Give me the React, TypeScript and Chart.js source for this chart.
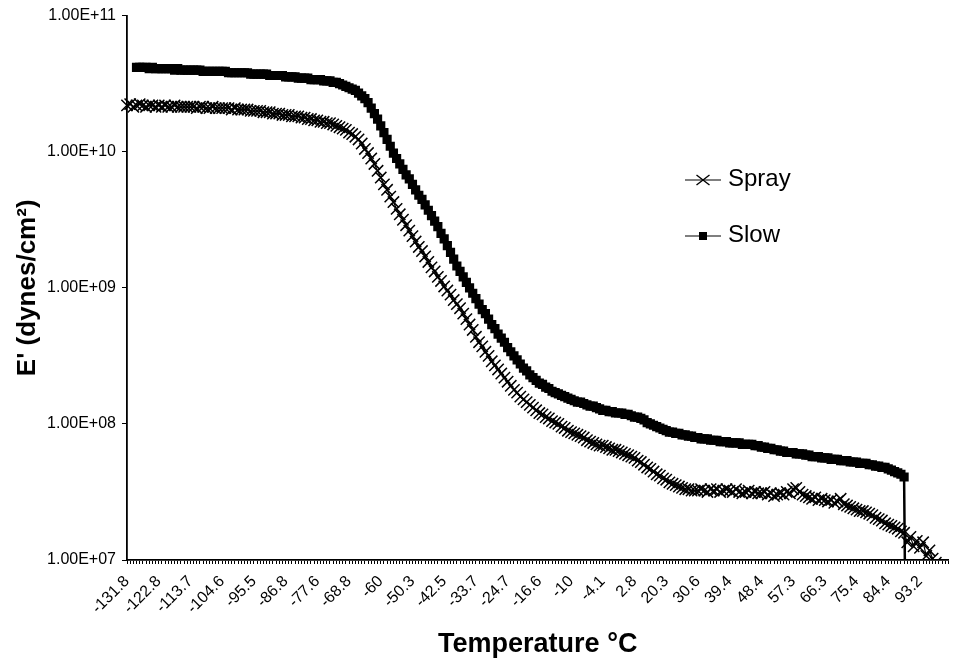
import React, { useEffect, useRef } from 'react';
import { Chart, registerables } from 'chart.js';

Chart.register(...registerables);

// ---------- data ----------
const tempLabels = [
  '-131.8', '-122.8', '-113.7', '-104.6', '-95.5', '-86.8', '-77.6', '-68.8', '-60',
  '-50.3', '-42.5', '-33.7', '-24.7', '-16.6', '-10', '-4.1', '2.8', '20.3', '30.6',
  '39.4', '48.4', '57.3', '66.3', '75.4', '84.4', '93.2',
];
const labelEvery = 10;
const categoryCount = 260;

// log10 of E' (dynes/cm^2), one value per measurement (category)
const sprayLogE = [
  10.34, 10.35, 10.33, 10.34, 10.35, 10.34, 10.33, 10.34, 10.34, 10.33,
  10.34, 10.33, 10.34, 10.33, 10.33, 10.34, 10.33, 10.33, 10.33, 10.33,
  10.33, 10.33, 10.32, 10.33, 10.33, 10.32, 10.32, 10.33, 10.32, 10.32,
  10.32, 10.32, 10.32, 10.31, 10.32, 10.31, 10.31, 10.31, 10.31, 10.30,
  10.30, 10.30, 10.30, 10.29, 10.29, 10.29, 10.28, 10.28, 10.28, 10.27,
  10.27, 10.27, 10.26, 10.26, 10.26, 10.25, 10.25, 10.24, 10.24, 10.23,
  10.23, 10.22, 10.22, 10.21, 10.21, 10.20, 10.19, 10.18, 10.17, 10.16,
  10.14, 10.13, 10.11, 10.09, 10.06, 10.02, 9.99, 9.95, 9.91, 9.86,
  9.81, 9.76, 9.72, 9.67, 9.63, 9.58, 9.54, 9.50, 9.46, 9.42,
  9.38, 9.34, 9.30, 9.27, 9.23, 9.19, 9.15, 9.12, 9.08, 9.05,
  9.01, 8.98, 8.95, 8.91, 8.88, 8.85, 8.81, 8.77, 8.73, 8.69,
  8.64, 8.60, 8.57, 8.53, 8.50, 8.46, 8.43, 8.40, 8.37, 8.34,
  8.31, 8.28, 8.25, 8.23, 8.20, 8.18, 8.16, 8.14, 8.12, 8.10,
  8.08, 8.07, 8.05, 8.04, 8.02, 8.01, 8.00, 7.98, 7.97, 7.95,
  7.94, 7.93, 7.92, 7.91, 7.90, 7.88, 7.87, 7.86, 7.85, 7.84,
  7.84, 7.83, 7.82, 7.81, 7.81, 7.80, 7.79, 7.78, 7.77, 7.76,
  7.75, 7.73, 7.72, 7.70, 7.68, 7.67, 7.65, 7.63, 7.62, 7.60,
  7.59, 7.57, 7.56, 7.55, 7.54, 7.53, 7.52, 7.52, 7.51, 7.51,
  7.51, 7.52, 7.51, 7.50, 7.52, 7.51, 7.52, 7.50, 7.51, 7.52,
  7.51, 7.50, 7.52, 7.50, 7.49, 7.50, 7.51, 7.49, 7.50, 7.49,
  7.49, 7.50, 7.48, 7.49, 7.47, 7.48, 7.49, 7.48, 7.50, 7.49,
  7.52, 7.53, 7.50, 7.48, 7.47, 7.46, 7.45, 7.46, 7.44, 7.45,
  7.44, 7.43, 7.44, 7.42, 7.43, 7.45, 7.41, 7.40, 7.39, 7.38,
  7.37, 7.36, 7.36, 7.35, 7.34, 7.33, 7.31, 7.30, 7.29, 7.27,
  7.26, 7.25, 7.24, 7.23, 7.21, 7.20, 7.13, 7.17, 7.10, 7.14,
  7.09, 7.13, 7.03, 7.07, 7.01, 6.98,
];

const slowLogE = [
  null, null, null, 10.62, 10.62, 10.62, 10.62, 10.61, 10.62, 10.61,
  10.61, 10.61, 10.61, 10.61, 10.61, 10.60, 10.61, 10.60, 10.60, 10.60,
  10.60, 10.60, 10.60, 10.60, 10.59, 10.59, 10.59, 10.59, 10.59, 10.59,
  10.59, 10.59, 10.58, 10.58, 10.58, 10.58, 10.58, 10.58, 10.58, 10.57,
  10.57, 10.57, 10.57, 10.57, 10.57, 10.56, 10.56, 10.56, 10.56, 10.56,
  10.55, 10.55, 10.55, 10.55, 10.54, 10.54, 10.54, 10.54, 10.53, 10.53,
  10.53, 10.53, 10.52, 10.52, 10.52, 10.51, 10.51, 10.50, 10.49, 10.48,
  10.47, 10.46, 10.45, 10.43, 10.41, 10.39, 10.36, 10.32, 10.28, 10.24,
  10.19, 10.14, 10.09, 10.04, 9.99, 9.95, 9.91, 9.87, 9.83, 9.80,
  9.76, 9.72, 9.68, 9.65, 9.61, 9.57, 9.53, 9.49, 9.45, 9.40,
  9.36, 9.31, 9.26, 9.21, 9.16, 9.12, 9.08, 9.04, 9.00, 8.96,
  8.92, 8.88, 8.84, 8.81, 8.77, 8.73, 8.70, 8.66, 8.63, 8.60,
  8.56, 8.53, 8.50, 8.47, 8.44, 8.41, 8.39, 8.36, 8.34, 8.32,
  8.30, 8.29, 8.27, 8.26, 8.24, 8.23, 8.22, 8.21, 8.20, 8.19,
  8.18, 8.17, 8.16, 8.16, 8.15, 8.14, 8.13, 8.13, 8.12, 8.11,
  8.10, 8.10, 8.09, 8.09, 8.08, 8.08, 8.08, 8.07, 8.07, 8.06,
  8.05, 8.05, 8.04, 8.03, 8.01, 8.00, 7.99, 7.98, 7.97, 7.96,
  7.95, 7.94, 7.94, 7.93, 7.93, 7.92, 7.92, 7.91, 7.91, 7.90,
  7.90, 7.89, 7.89, 7.89, 7.88, 7.88, 7.88, 7.87, 7.87, 7.87,
  7.86, 7.86, 7.86, 7.86, 7.85, 7.85, 7.85, 7.85, 7.84, 7.84,
  7.83, 7.83, 7.82, 7.82, 7.81, 7.81, 7.80, 7.80, 7.79, 7.79,
  7.79, 7.78, 7.78, 7.78, 7.77, 7.77, 7.76, 7.76, 7.76, 7.75,
  7.75, 7.75, 7.74, 7.74, 7.74, 7.73, 7.73, 7.73, 7.72, 7.72,
  7.72, 7.71, 7.71, 7.71, 7.70, 7.70, 7.69, 7.69, 7.68, 7.68,
  7.67, 7.66, 7.65, 7.64, 7.63, 7.61, 5,
];

const yTickValues = [1e7, 1e8, 1e9, 1e10, 1e11];
const yTickLabels = ['1.00E+07', '1.00E+08', '1.00E+09', '1.00E+10', '1.00E+11'];
const seriesNames = ['Spray', 'Slow'];
const xTitle = 'Temperature °C';
const yTitle = "E' (dynes/cm²)";

// ---------- styling ----------
const FONT = '"Liberation Sans", Arial, Helvetica, sans-serif';
const legendRows = [180, 236];

const legendPlugin = {
  id: 'excelLegend',
  afterDraw(chart: any) {
    const ctx = chart.ctx as CanvasRenderingContext2D;
    ctx.save();
    chart.data.datasets.forEach((ds: any, k: number) => {
      const y = legendRows[k];
      ctx.strokeStyle = '#000';
      ctx.lineWidth = 1.2;
      ctx.beginPath();
      ctx.moveTo(685, y);
      ctx.lineTo(721, y);
      ctx.stroke();
      const cx = 703;
      if (ds.pointStyle === 'crossRot') {
        ctx.lineWidth = 1.4;
        ctx.beginPath();
        ctx.moveTo(cx - 6.5, y - 5);
        ctx.lineTo(cx + 6.5, y + 5);
        ctx.moveTo(cx - 6.5, y + 5);
        ctx.lineTo(cx + 6.5, y - 5);
        ctx.stroke();
      } else {
        ctx.fillStyle = '#000';
        ctx.fillRect(cx - 4, y - 4, 8, 8);
      }
      ctx.fillStyle = '#000';
      ctx.font = `24px ${FONT}`;
      ctx.textBaseline = 'middle';
      ctx.textAlign = 'left';
      ctx.fillText(ds.label, 728, y - 1);
    });
    ctx.restore();
  },
};

export default function App() {
  const ref = useRef<HTMLCanvasElement>(null);

  useEffect(() => {
    if (!ref.current) return;
    const categories = Array.from({ length: categoryCount }, (_, i) =>
      i % labelEvery === 0 ? tempLabels[i / labelEvery] ?? '' : ''
    );
    const toValue = (v: number | null) => (v == null ? null : Math.pow(10, v));

    const chart = new Chart(ref.current, {
      type: 'line',
      data: {
        labels: categories,
        datasets: [
          {
            label: seriesNames[0],
            data: sprayLogE.map(toValue),
            borderColor: '#000',
            borderWidth: 1.2,
            pointStyle: 'crossRot',
            pointRadius: 8,
            pointBorderWidth: 1.5,
            pointBorderColor: '#000',
            pointBackgroundColor: '#000',
            fill: false,
            tension: 0,
          },
          {
            label: seriesNames[1],
            data: slowLogE.map(toValue),
            borderColor: '#000',
            borderWidth: 2.5,
            pointStyle: 'rect',
            pointRadius: 6.5,
            pointBorderWidth: 0,
            pointBackgroundColor: '#000',
            pointBorderColor: '#000',
            fill: false,
            tension: 0,
            clip: { left: 10, top: 10, right: 10, bottom: 0 },
          },
        ],
      } as any,
      options: {
        responsive: false,
        animation: false,
        events: [],
        layout: { padding: { left: 0, top: 15, right: 3, bottom: 0 } },
        plugins: {
          legend: { display: false },
          tooltip: { enabled: false },
        },
        scales: {
          x: {
            type: 'category',
            offset: false,
            grid: {
              drawOnChartArea: false,
              drawTicks: true,
              tickLength: 4,
              tickColor: '#000',
              tickWidth: 1,
            },
            border: { display: true, color: '#000', width: 1.8 },
            ticks: {
              autoSkip: false,
              minRotation: 45,
              maxRotation: 45,
              padding: 8,
              color: '#000',
              font: { family: FONT, size: 16 },
              callback: (_v: any, index: number) =>
                index % labelEvery === 0 ? tempLabels[index / labelEvery] ?? '' : '',
            },
            title: {
              display: true,
              text: xTitle,
              color: '#000',
              font: { family: FONT, size: 27, weight: 'bold' },
              padding: { top: 0, bottom: 4 },
            },
            afterFit: (scale: any) => {
              scale.height = 105;
              scale.paddingLeft = 0;
              scale.paddingRight = 0;
            },
          },
          y: {
            type: 'logarithmic',
            min: 1e7,
            max: 1e11,
            afterBuildTicks: (scale: any) => {
              scale.ticks = yTickValues.map((v) => ({ value: v }));
            },
            grid: {
              drawOnChartArea: false,
              drawTicks: true,
              tickLength: 5,
              tickColor: '#000',
            },
            border: { display: true, color: '#000', width: 1.8 },
            ticks: {
              padding: 6,
              color: '#000',
              font: { family: FONT, size: 16 },
              callback: (_v: any, index: number) => yTickLabels[index],
            },
            title: {
              display: true,
              text: yTitle,
              color: '#000',
              font: { family: FONT, size: 26, weight: 'bold' },
              padding: { top: 12, bottom: 0 },
            },
            afterFit: (scale: any) => {
              scale.width = 127;
            },
          },
        },
      } as any,
      plugins: [legendPlugin],
    });
    return () => chart.destroy();
  }, []);

  return (
    <canvas
      ref={ref}
      width={958}
      height={665}
      style={{ position: 'fixed', left: 0, top: 0, display: 'block', background: '#fff' }}
    />
  );
}
